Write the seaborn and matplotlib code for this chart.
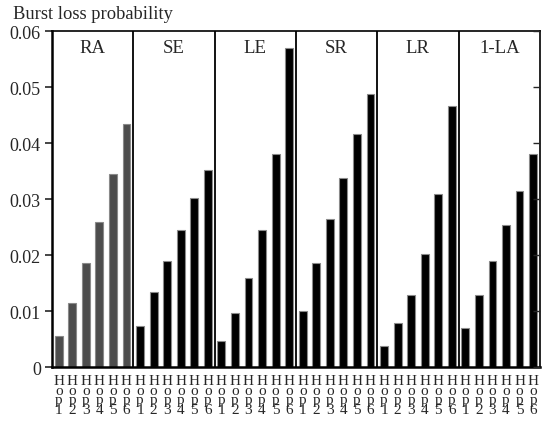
import matplotlib
matplotlib.use("Agg")
import matplotlib.pyplot as plt
import seaborn as sns
import pandas as pd
import numpy as np

methods = ["RA", "SE", "LE", "SR", "LR", "1-LA"]
hops = ["1", "2", "3", "4", "5", "6"]
ra = [0.0055, 0.0115, 0.0185, 0.0259, 0.0345, 0.0434]
se = [0.0073, 0.0134, 0.0190, 0.0244, 0.0301, 0.0352]
le = [0.0047, 0.0096, 0.0159, 0.0245, 0.0380, 0.0569]
sr = [0.0101, 0.0186, 0.0265, 0.0338, 0.0416, 0.0488]
lr = [0.0038, 0.0078, 0.0129, 0.0201, 0.0309, 0.0466]
la1 = [0.0069, 0.0129, 0.0189, 0.0253, 0.0315, 0.0381]
yticks = [0, 0.01, 0.02, 0.03, 0.04, 0.05, 0.06]
ytick_labels = ["0", "0.01", "0.02", "0.03", "0.04", "0.05", "0.06"]

series = [ra, se, le, sr, lr, la1]
rows = []
for m, vals in zip(methods, series):
    for h, v in zip(hops, vals):
        rows.append({"slot": f"{m}-{h}", "method": m, "hop": h, "value": v})
df = pd.DataFrame(rows)

sns.set_theme(style="white")
plt.rcParams["font.family"] = ["Liberation Serif", "DejaVu Serif"]

fig = plt.figure(figsize=(5.47, 4.27), dpi=100)
ax = fig.add_axes([0.095, 0.138, 0.892, 0.787])

palette = {m: ("#4d4d4d" if m == "RA" else "#000000") for m in methods}
sns.barplot(data=df, x="slot", y="value", hue="method", palette=palette,
            dodge=False, width=0.58, legend=False, ax=ax,
            edgecolor="#8a8a8a", linewidth=0.8, saturation=1)

n = len(hops)
ax.set_xlim(-0.5, len(df) - 0.5)
ax.set_ylim(0, 0.06)
ax.set_yticks(yticks)
ax.set_yticklabels(ytick_labels, fontsize=13)
ax.set_xticks(range(len(df)))
ax.set_xticklabels(["H\no\np\n" + h for h in df["hop"]], fontsize=11,
                   linespacing=0.66, va="top")
ax.tick_params(axis="x", length=0, pad=5)
ax.tick_params(axis="y", direction="out", length=5, width=1.2, left=True, pad=3)
ax.set_xlabel("")
ax.set_ylabel("")

for i in range(1, len(methods)):
    ax.axvline(i * n - 0.5, color="black", lw=1.3)
for i, m in enumerate(methods):
    ax.text(i * n + (n - 1) / 2, 0.0570, m, ha="center", va="center", fontsize=13.5)

for s in ["left", "bottom"]:
    ax.spines[s].set_linewidth(1.8)
    ax.spines[s].set_color("black")
for s in ["top", "right"]:
    ax.spines[s].set_linewidth(1.2)
    ax.spines[s].set_color("black")

ax2 = ax.twinx()
ax2.set_ylim(0, 0.06)
ax2.set_yticks(yticks)
ax2.set_yticklabels([])
ax2.tick_params(axis="y", direction="in", length=5, width=1.0, right=True)
for s in ax2.spines.values():
    s.set_visible(False)

fig.text(0.024, 0.965, "Burst loss probability", fontsize=13.3, ha="left", va="center")

fig.savefig("out.png", dpi=100)
